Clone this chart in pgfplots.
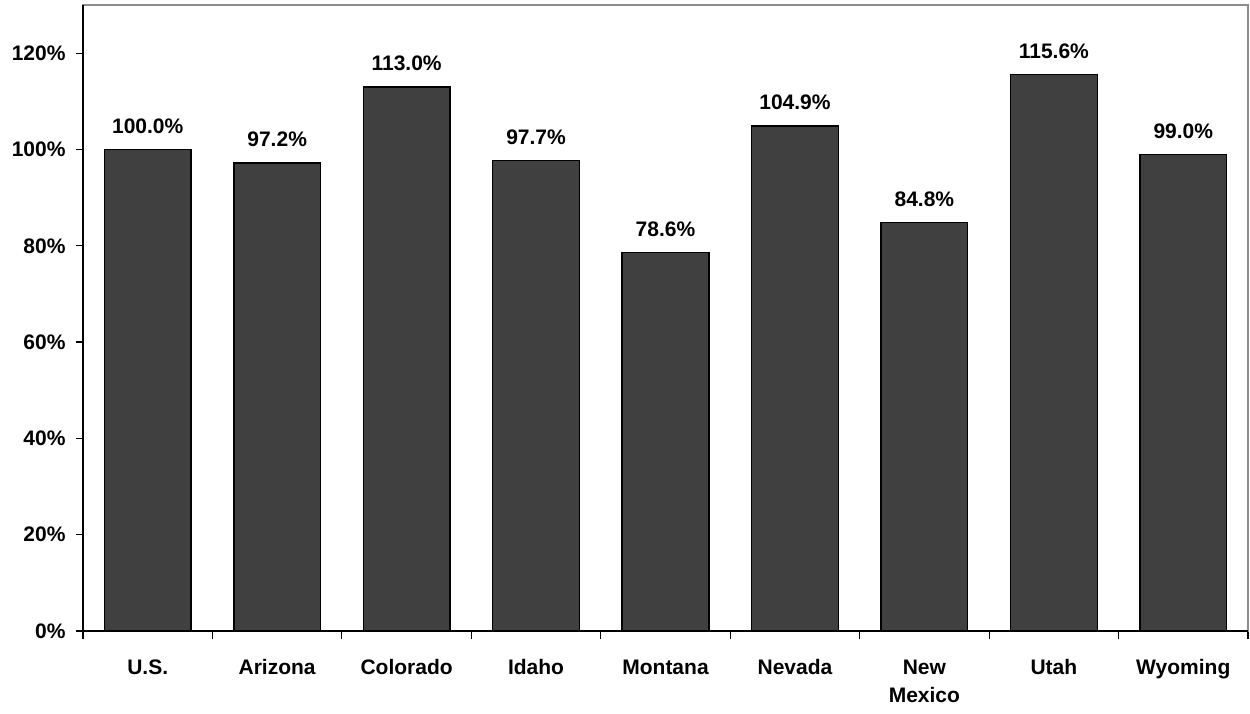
\documentclass[border=0pt]{standalone}
\usepackage{pgfplots}
\pgfplotsset{compat=1.18}
\usetikzlibrary{calc}
\usepackage{fontspec}
\setmainfont{Liberation Sans}

\definecolor{barfill}{HTML}{404040}
\definecolor{framegray}{HTML}{8C8C8C}

\begin{document}
\begin{tikzpicture}
\begin{axis}[
  name=ax,
  scale only axis,
  width=1165pt, height=626pt,
  xmin=-0.5, xmax=8.5,
  ymin=0, ymax=130,
  xtick=data,
  xticklabels={\strut U.S.,\strut Arizona,\strut Colorado,\strut Idaho,\strut Montana,\strut Nevada,\strut New\\\strut Mexico,\strut Utah,\strut Wyoming},
  major x tick style={draw=none},
  minor xtick={-0.5,0.5,...,8.5},
  ytick={0,20,...,120},
  yticklabel={\pgfmathprintnumber{\tick}\%},
  /pgf/number format/assume math mode=true,
  tick align=outside,
  tick pos=left,
  major tick length=7pt,
  minor tick length=8pt,
  tick style={black, line width=1.2pt},
  axis line style={framegray, line width=1.2pt},
  ticklabel style={font=\fontsize{21}{28}\selectfont\bfseries},
  xticklabel style={align=center, yshift=-13pt},
  yticklabel style={xshift=-7pt},
  ybar,
  bar width=0.67,
  nodes near coords={\pgfmathprintnumber[fixed,fixed zerofill,precision=1]{\pgfplotspointmeta}\%},
  nodes near coords style={font=\fontsize{21}{25}\selectfont\bfseries, yshift=12pt},
  point meta=y,
  clip=false,
]
\addplot[fill=barfill, draw=black, line width=1.4pt] coordinates {
  (0,100.0) (1,97.2) (2,113.0) (3,97.7) (4,78.6)
  (5,104.9) (6,84.8) (7,115.6) (8,99.0)
};
\draw[black, line width=1.2pt] (rel axis cs:0,1) -- (rel axis cs:0,0) -- (rel axis cs:1,0);
\end{axis}
\path ($(ax.south west)+(-83pt,-77pt)$) rectangle ($(ax.north east)+(2pt,5pt)$);
\end{tikzpicture}
\end{document}
